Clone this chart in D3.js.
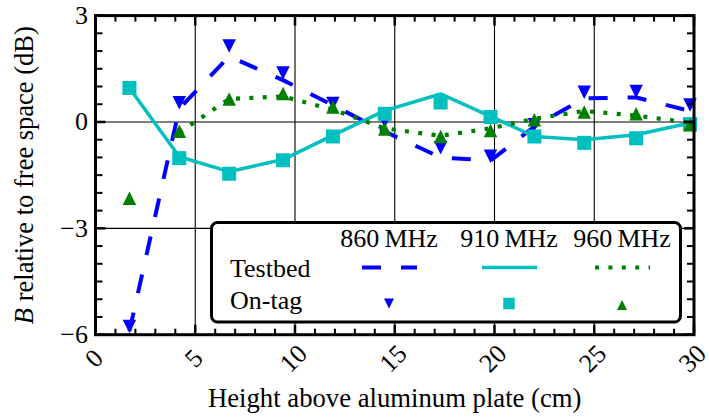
<!DOCTYPE html>
<html>
<head>
<meta charset="utf-8">
<script src="https://cdn.jsdelivr.net/npm/d3@7"></script>
<style>
  html, body { margin: 0; padding: 0; background: #fff; }
  svg { display: block; }
  text { font-family: "Liberation Serif", Tinos, "Times New Roman", Times, "DejaVu Serif", serif; }
</style>
</head>
<body>
<svg id="chart" width="709" height="417"></svg>
<script>
// Heights above the plate (cm)
const positions = [1.7, 4.2, 6.7, 9.4, 11.9, 14.5, 17.3, 19.8, 22.0, 24.5, 27.1, 29.8];

// Testbed measurements (dB relative to free space)
const testbed860 = [-5.9, 0.38, 1.85, 1.18, 0.47, -0.27, -1.0, -1.09, -0.13, 0.67, 0.69, 0.31];
const testbed910 = [0.96, -0.98, -1.40, -1.06, -0.38, 0.32, 0.79, 0.16, -0.41, -0.50, -0.36, -0.03];
const testbed960 = [null, -0.30, 0.65, 0.72, 0.35, -0.18, -0.39, -0.18, 0.09, 0.31, 0.18, -0.02];

// On-tag measurements (dB relative to free space)
const onTag860 = [-5.77, 0.54, 2.14, 1.38, 0.52, 0.02, -0.73, -0.97, -0.08, 0.84, 0.86, 0.48];
const onTag910 = [0.96, -1.02, -1.46, -1.08, -0.41, 0.23, 0.55, 0.14, -0.41, -0.59, -0.46, -0.06];
const onTag960 = [-2.15, -0.26, 0.65, 0.80, 0.42, -0.20, -0.41, -0.24, 0.06, 0.28, 0.23, -0.08];

// Axis ticks
const xMajorTicks = [0, 5, 10, 15, 20, 25, 30];
const yMajorTicks = [-6, -3, 0, 3];
const xGrid = [5, 10, 15, 20, 25];
const yGrid = [-3, 0];
const freqLabels = ["860\u2009MHz", "910\u2009MHz", "960\u2009MHz"];
const rowLabels = ["Testbed", "On-tag"];

const FONT = '"Liberation Serif", Tinos, "Times New Roman", Times, "DejaVu Serif", serif';

const svg = d3.select("#chart").attr("font-family", FONT);
const pLeft = 95.5, pRight = 694, pTop = 15.6, pBottom = 334.7;

const x = d3.scaleLinear().domain([0, 30]).range([pLeft, pRight]);
const y = d3.scaleLinear().domain([-6, 3]).range([pBottom, pTop]);

const series = [
  { testbed: testbed860, onTag: onTag860, color: "#0000ff", dash: "19,20", width: 4, marker: "down" },
  { testbed: testbed910, onTag: onTag910, color: "#00bfbf", dash: null, width: 3.5, marker: "square" },
  { testbed: testbed960, onTag: onTag960, color: "#008000", dash: "4,9.4", width: 4.2, marker: "up" }
];

function markerPath(kind, s) {
  const a = s / 2;
  if (kind === "up") return `M0,${-a}L${a},${a}L${-a},${a}Z`;
  if (kind === "down") return `M0,${a}L${a},${-a}L${-a},${-a}Z`;
  return `M${-a},${-a}H${a}V${a}H${-a}Z`;
}

// Grid lines
const grid = svg.append("g").attr("stroke", "#000").attr("stroke-width", 1.1);
grid.selectAll(".gx").data(xGrid).join("line")
  .attr("x1", d => x(d)).attr("x2", d => x(d)).attr("y1", pTop).attr("y2", pBottom);
grid.selectAll(".gy").data(yGrid).join("line")
  .attr("x1", pLeft).attr("x2", pRight).attr("y1", d => y(d)).attr("y2", d => y(d));

// Data
const line = d3.line()
  .defined(d => d[1] !== null)
  .x(d => x(d[0])).y(d => y(d[1]));

const plot = svg.append("g");
series.forEach(s => {
  plot.append("path")
    .datum(positions.map((p, i) => [p, s.testbed[i]]))
    .attr("d", line)
    .attr("fill", "none")
    .attr("stroke", s.color)
    .attr("stroke-width", s.width)
    .attr("stroke-dasharray", s.dash)
    .attr("stroke-linejoin", "round");
  const size = s.marker === "square" ? 14 : 13.5;
  plot.append("g").selectAll("path")
    .data(positions.map((p, i) => [p, s.onTag[i]]))
    .join("path")
    .attr("transform", d => `translate(${x(d[0])},${y(d[1])})`)
    .attr("d", markerPath(s.marker, size))
    .attr("fill", s.color);
});

// Ticks (inward on all four sides)
const ticks = svg.append("g").attr("stroke", "#000");
const xMinor = d3.range(0, 31, 1).filter(v => v % 5 !== 0);
const yMinor = d3.range(-6, 3.01, 0.5).filter(v => Math.abs(v % 3) > 1e-6);
xMinor.forEach(v => {
  ticks.append("line").attr("x1", x(v)).attr("x2", x(v)).attr("y1", pBottom).attr("y2", pBottom - 6).attr("stroke-width", 2);
  ticks.append("line").attr("x1", x(v)).attr("x2", x(v)).attr("y1", pTop).attr("y2", pTop + 6).attr("stroke-width", 2);
});
xMajorTicks.forEach(v => {
  ticks.append("line").attr("x1", x(v)).attr("x2", x(v)).attr("y1", pBottom).attr("y2", pBottom - 10).attr("stroke-width", 2.5);
  ticks.append("line").attr("x1", x(v)).attr("x2", x(v)).attr("y1", pTop).attr("y2", pTop + 10).attr("stroke-width", 2.5);
});
yMinor.forEach(v => {
  ticks.append("line").attr("x1", pLeft).attr("x2", pLeft + 7).attr("y1", y(v)).attr("y2", y(v)).attr("stroke-width", 2);
  ticks.append("line").attr("x1", pRight).attr("x2", pRight - 7).attr("y1", y(v)).attr("y2", y(v)).attr("stroke-width", 2);
});
yMajorTicks.forEach(v => {
  ticks.append("line").attr("x1", pLeft).attr("x2", pLeft + 10).attr("y1", y(v)).attr("y2", y(v)).attr("stroke-width", 2.5);
  ticks.append("line").attr("x1", pRight).attr("x2", pRight - 10).attr("y1", y(v)).attr("y2", y(v)).attr("stroke-width", 2.5);
});

// Frame
svg.append("rect")
  .attr("x", pLeft).attr("y", pTop)
  .attr("width", pRight - pLeft).attr("height", pBottom - pTop)
  .attr("fill", "none").attr("stroke", "#000").attr("stroke-width", 3);

// Tick labels
svg.append("g").selectAll("text").data(xMajorTicks).join("text")
  .attr("transform", d => `translate(${x(d) - 1.5},358.5) rotate(-45)`)
  .attr("text-anchor", "middle")
  .attr("dominant-baseline", "central")
  .attr("font-size", 26)
  .text(d => d);

svg.append("g").selectAll("text").data(yMajorTicks).join("text")
  .attr("x", 88).attr("y", d => y(d))
  .attr("text-anchor", "end")
  .attr("dominant-baseline", "central")
  .attr("font-size", 26)
  .text(d => d < 0 ? "\u2212" + Math.abs(d) : d);

// Axis titles
svg.append("text")
  .attr("x", (pLeft + pRight) / 2).attr("y", 407)
  .attr("text-anchor", "middle")
  .attr("font-size", 26.7)
  .text("Height above aluminum plate (cm)");

const yTitle = svg.append("text")
  .attr("transform", `translate(33,${(pTop + pBottom) / 2}) rotate(-90)`)
  .attr("text-anchor", "middle")
  .attr("font-size", 26.5);
yTitle.append("tspan").attr("font-style", "italic").text("B");
yTitle.append("tspan").text(" relative to free space (dB)");

// Legend
const legend = svg.append("g");
legend.append("rect")
  .attr("x", 211.5).attr("y", 222.5)
  .attr("width", 469).attr("height", 99.5)
  .attr("rx", 6).attr("ry", 6)
  .attr("fill", "#fff").attr("stroke", "#000").attr("stroke-width", 3);

const colX = [389, 509, 622];
legend.selectAll(".hdr").data(freqLabels).join("text")
  .attr("x", (d, i) => colX[i]).attr("y", 247)
  .attr("text-anchor", "middle")
  .attr("font-size", 26)
  .text(d => d);
legend.selectAll(".row").data(rowLabels).join("text")
  .attr("x", 230).attr("y", (d, i) => [277, 309][i])
  .attr("font-size", 26)
  .text(d => d);

series.forEach((s, i) => {
  legend.append("line")
    .attr("x1", colX[i] - 27).attr("x2", colX[i] + 28)
    .attr("y1", 267.5).attr("y2", 267.5)
    .attr("stroke", s.color)
    .attr("stroke-width", s.width)
    .attr("stroke-dasharray", s.dash);
  const size = s.marker === "square" ? 11.5 : 10;
  legend.append("path")
    .attr("transform", `translate(${colX[i]},${s.marker === "up" ? 305 : 303.5})`)
    .attr("d", markerPath(s.marker, size))
    .attr("fill", s.color);
});
</script>
</body>
</html>
